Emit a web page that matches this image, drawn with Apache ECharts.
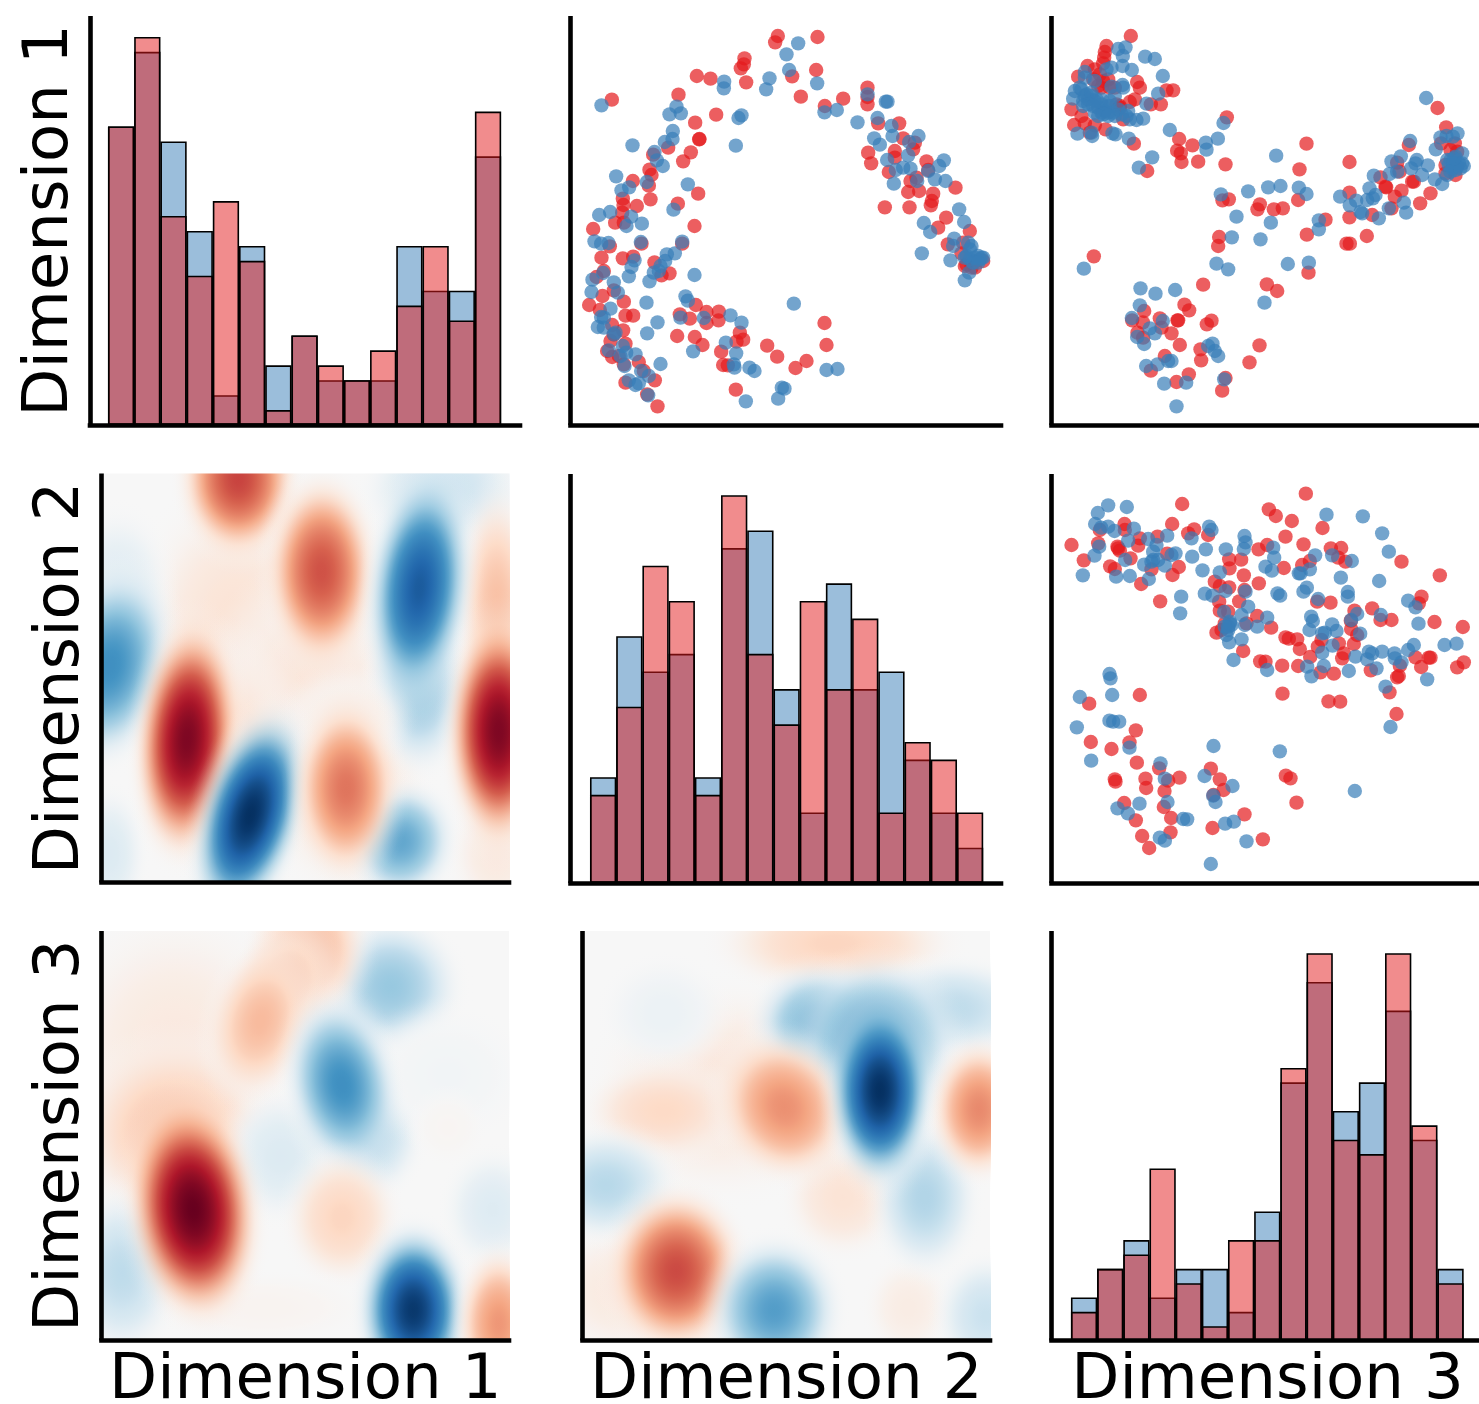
<!DOCTYPE html>
<html><head><meta charset="utf-8">
<style>html,body{margin:0;padding:0;background:#fff}#c{width:1479px;height:1404px}</style>
<script src="https://cdn.jsdelivr.net/npm/echarts@6/dist/echarts.min.js"></script>
</head><body><div id="c"></div>
<script>
const dimensionNames = ['Dimension 1','Dimension 2','Dimension 3'];
const binCenters = [0.5,1.5,2.5,3.5,4.5,5.5,6.5,7.5,8.5,9.5,10.5,11.5,12.5,13.5,14.5];
const hist1Blue = [20,25,19,13,2,12,4,6,3,3,3,12,9,9,18];
const hist1Red  = [20,26,14,10,15,11,1,6,4,3,5,8,12,7,21];
const hist2Blue = [6,14,12,13,6,19,20,11,4,17,11,12,7,4,2];
const hist2Red  = [5,10,18,16,5,22,13,9,16,11,15,4,8,7,4];
const hist3Blue = [3,5,7,3,5,5,2,9,18,25,16,18,23,14,5];
const hist3Red  = [2,5,6,12,4,1,7,7,19,27,14,13,27,15,4];

// Scatter readings, one array per part of each panel [x, y from top]
const a1Blue=[[93,268],[318,272],[297,295],[331,292],[461,197],[460,217],[597,187],[587,220],[513,298],[504,306],[186,388],[496,389],[307,345],[306,369],[283,378],[252,408],[259,433],[277,450],[137,481],[229,498],[176,514],[153,523],[352,505],[309,581],[86,597],[119,588],[182,602]];
const a1Red=[[124,251],[622,60],[614,79],[522,127],[520,145],[511,157],[527,199],[379,180],[420,188],[324,236],[437,296],[374,320],[387,369],[386,370],[293,395],[248,416],[361,409],[338,436],[237,461],[243,477],[187,495],[235,509],[240,550],[383,533],[322,563],[199,570],[157,548],[159,567],[155,590]];
const a2Red=[[68,24],[134,5],[160,5],[372,15],[118,76],[213,68],[335,68],[93,110],[157,112],[188,107],[252,124],[273,163],[297,157],[100,150],[78,168],[96,225],[130,208],[160,242],[56,252],[88,267],[165,284],[188,284],[328,280],[358,293],[376,252],[408,273],[445,272],[444,298],[408,306],[125,312],[158,328],[130,340],[320,345],[373,348],[396,372],[120,360],[165,368],[508,335],[518,356],[498,362],[452,392],[590,374],[620,407],[458,432],[472,433],[110,390],[125,408],[145,405],[205,423],[220,450],[165,485],[253,478],[230,520],[261,556],[496,506],[160,430]];
const a2Blue=[[168,15],[214,8],[72,61],[92,68],[114,66],[211,63],[335,62],[313,97],[289,100],[284,120],[192,118],[183,138],[175,166],[270,135],[265,150],[250,155],[237,181],[372,162],[98,156],[66,176],[130,184],[142,215],[63,213],[228,245],[345,226],[352,239],[120,263],[100,290],[92,288],[82,318],[100,320],[261,304],[230,337],[330,290],[400,291],[480,283],[513,305],[135,335],[130,340],[157,375],[115,388],[167,395],[195,400],[150,405],[270,429],[162,435],[368,391],[466,365],[497,397],[490,430],[492,440],[537,440],[552,450],[212,450],[235,465],[175,478],[205,487],[195,492],[233,523],[526,541],[623,533],[634,500],[642,503]];
const a3Blue=[[35,82],[0,115],[8,162],[92,202],[243,235],[298,257],[303,257],[114,289],[151,282],[213,319],[273,306],[315,330],[318,360],[263,367],[280,386],[396,360],[368,378],[365,418],[302,432],[472,433],[458,450],[425,465],[372,458],[350,455],[328,462],[322,503],[392,495],[445,490],[477,495],[518,580],[533,618],[412,621],[431,648],[503,668],[500,690],[545,680],[555,690],[406,712],[492,733],[540,720],[565,725],[580,730],[585,725],[548,770],[535,793],[22,863],[120,1062],[153,1059],[550,730],[575,720],[590,725],[560,740],[575,740],[550,700],[535,725]];
const a3Red=[[93,63],[89,162],[17,181],[43,242],[115,270],[170,248],[243,215],[243,243],[243,265],[275,322],[338,322],[350,367],[385,380],[380,400],[325,405],[325,425],[245,410],[254,442],[307,468],[420,436],[425,462],[390,485],[372,495],[365,528],[398,525],[507,515],[440,533],[436,555],[433,568],[295,574],[369,574],[479,605],[455,635],[550,645],[484,685],[530,680],[525,712],[535,750],[565,755],[590,735],[114,921],[120,987],[60,1035],[27,1056],[540,745],[555,755]];

const b1Red=[[238,60],[165,90],[160,108],[158,125],[155,142],[108,150],[130,160],[80,182],[150,215],[140,210],[257,198],[265,215],[345,223],[365,223],[250,250],[235,258],[205,270],[298,265],[328,265],[60,280],[90,300],[68,327],[100,322],[130,328],[115,350],[162,340],[215,310],[247,383],[526,304],[383,369],[423,388],[377,404],[388,412],[390,438],[440,437],[522,445],[287,465],[513,553],[532,550],[618,580],[625,565],[175,215],[190,215],[125,190],[155,195],[145,175],[170,190],[205,275],[195,265]];
const b1Blue=[[200,99],[222,94],[214,120],[213,150],[241,162],[281,122],[310,129],[334,180],[100,168],[100,185],[130,195],[165,160],[180,155],[70,225],[90,220],[65,248],[95,255],[120,240],[150,265],[175,270],[190,240],[180,212],[213,207],[215,215],[320,233],[285,263],[130,290],[160,285],[185,290],[230,285],[235,310],[255,312],[275,308],[78,353],[122,360],[120,350],[183,352],[192,355],[232,368],[355,342],[463,380],[465,401],[499,368],[516,321],[302,424],[262,455],[508,535],[590,526],[555,602],[110,250],[130,255],[150,290],[170,290],[105,235],[85,215],[100,240],[120,230],[135,250],[110,265],[140,275],[165,272],[150,250],[95,270],[125,270],[175,255],[200,280],[210,295],[155,295],[190,300],[225,300],[140,300],[170,300]];
const b2Blue=[[482,54],[434,183],[525,172],[543,168],[562,170],[576,160],[511,208],[406,229],[378,244],[454,240],[487,256],[437,265],[325,287],[372,282],[395,275],[450,250],[470,285],[508,298],[530,312],[312,325],[330,345],[322,355],[305,360],[224,350],[272,362],[253,376],[285,396],[290,400],[340,415],[415,368],[422,398],[370,385],[555,240],[570,230],[590,220],[595,258],[545,285],[560,265],[32,227],[8,322],[45,318],[100,323],[123,342],[160,421],[545,240],[575,260],[550,255],[565,250],[580,250],[590,250],[570,270],[555,275],[585,265],[565,235]];
const b2Red=[[516,84],[542,142],[123,191],[252,246],[430,195],[527,190],[568,190],[575,215],[540,255],[570,285],[395,248],[402,275],[345,292],[362,322],[440,305],[445,305],[408,332],[388,350],[495,340],[464,370],[378,385],[252,338],[102,268],[98,360],[25,388],[52,385],[180,419],[252,412],[320,405],[304,468],[360,320],[555,210],[540,280]];
const b3Blue=[[541,49],[627,55],[658,5],[802,25],[97,143],[495,128],[530,145],[709,129],[772,125],[267,202],[312,218],[371,207],[639,245],[265,253],[241,291],[334,300],[295,322],[310,337],[257,348],[278,369],[470,375],[483,368],[490,390],[500,405],[284,435],[318,430],[350,420],[360,420],[338,488],[404,485],[518,475],[375,556]];
const b3Red=[[127,106],[503,48],[500,75],[766,41],[895,68],[885,68],[771,155],[455,191],[646,190],[677,210],[399,251],[413,268],[278,270],[242,298],[325,292],[274,304],[378,298],[380,298],[480,299],[466,310],[330,320],[258,335],[360,337],[275,350],[385,372],[624,373],[447,385],[340,405],[449,418],[594,424],[298,449],[412,460],[375,483],[522,471],[512,509]];

const c1Blue=[[170,76],[226,81],[139,99],[131,132],[149,143],[170,140],[189,153],[247,146],[230,182],[143,200],[129,227],[94,286],[221,240],[194,290],[235,288],[278,254],[290,177],[315,195],[305,215],[305,240],[300,245],[320,240],[340,257],[292,297],[347,167],[372,220],[360,225],[422,230],[420,175],[473,140],[480,150],[463,208],[453,271],[505,277],[523,208],[579,168],[582,187],[577,207],[460,341],[483,347],[522,333],[582,335],[389,350],[386,400],[518,396],[590,380],[570,405],[580,435],[535,430],[530,450],[525,465],[533,487],[570,478],[617,440],[546,540],[174,582],[177,595],[535,425],[530,440],[540,435],[520,440]];
const c1Red=[[392,72],[219,132],[220,150],[60,195],[145,150],[140,190],[198,200],[205,212],[200,205],[97,241],[176,259],[190,267],[237,235],[265,175],[260,197],[318,170],[362,132],[428,148],[410,160],[470,165],[347,221],[382,261],[363,285],[269,312],[300,268],[326,364],[533,238],[534,265],[569,239],[577,286],[490,305],[505,318],[533,322],[579,330],[622,310],[621,208],[503,365],[505,392],[530,395],[563,364],[617,408],[495,458],[510,450],[520,430],[575,513],[626,544],[585,430]];
const c2Blue=[[183,104],[292,109],[350,160],[370,215],[23,203],[26,233],[0,260],[19,272],[149,226],[200,226],[259,243],[133,268],[100,280],[105,280],[226,293],[341,303],[124,323],[114,335],[247,336],[247,350],[36,340],[44,347],[158,357],[428,362],[450,382],[346,405],[459,431],[5,413],[137,410],[142,423],[132,450],[200,433],[213,453],[178,458],[170,460],[275,402],[257,420],[284,461],[201,497],[170,518],[310,515],[320,520],[350,515],[270,530],[305,538],[387,520],[388,535],[408,547],[445,495],[428,510],[537,495],[573,491],[485,598],[175,558],[125,560],[138,589],[250,573],[333,565],[360,620],[5,570],[375,741]];
const c2Red=[[121,41],[10,88],[31,108],[79,123],[171,144],[60,170],[114,193],[5,195],[196,205],[227,204],[218,233],[240,245],[133,243],[110,255],[55,264],[408,245],[523,286],[468,350],[460,370],[155,365],[195,368],[320,385],[267,392],[256,422],[345,420],[378,420],[507,426],[592,441],[257,447],[17,443],[60,472],[70,476],[95,478],[103,507],[275,465],[220,490],[157,500],[168,480],[265,492],[235,520],[230,535],[134,531],[50,557],[98,558],[165,577],[205,581],[316,571],[450,532],[467,561],[490,533],[495,533],[595,547],[575,562],[403,557],[400,588],[395,592],[372,637],[51,641],[189,664],[224,665],[393,702],[0,545]];
const c3Blue=[[85,51],[182,45],[174,122],[185,125],[203,125],[76,142],[234,203],[119,242],[327,250],[340,296],[348,366],[264,371],[198,385],[229,400],[459,288],[486,198],[685,214],[543,318],[485,347],[492,366],[395,417],[407,418],[521,431],[547,425],[325,473],[340,482],[585,484],[478,552],[910,333]];
const c3Red=[[113,71],[265,45],[253,151],[234,187],[118,186],[180,207],[256,248],[323,265],[190,298],[192,305],[282,296],[284,324],[350,302],[384,293],[339,333],[218,369],[337,381],[253,421],[359,414],[272,468],[357,457],[293,504],[478,266],[505,298],[516,330],[486,345],[579,403],[483,444],[634,478],[703,287],[717,295],[735,368]];

// Density-difference lobes: [x%, y% from top, x radius, y radius, tilt deg, signed level]
const diff21=[[33,36,30,40,0,.14],[51,50,28,30,0,.12],[30,70,24,36,0,.18],[60,78,24,30,0,.16],[84,4,24,18,0,-.22],[78,52,15,26,0,-.38],[4,28,16,24,0,-.12],[97,32,12,34,0,.3],[97,93,14,18,0,.1],[2,93,11,20,0,-.14],[2,47,19,30,12,-.62],[60,60,18,14,0,.08],[33.6,1.2,18,24,0,.68],[54,24,17,29,0,.64],[78,28,16,36,6,-.84],[73.6,90,16,18,12,-.52],[21,65,16,36,4,.94],[36.5,83.5,16,33,16,-1],[60,77,16,27,0,.54],[97.5,63,16,35,0,.94]];
const diff31=[[18,28,36,40,0,.1],[18,49,30,28,0,.3],[71,13.6,21,21,0,-.38],[65,49,17,20,0,-.32],[44,55,18,20,0,-.14],[85,35,24,20,0,-.03],[85,48,11,11,0,.02],[50.5,5.3,18,22,15,.36],[45,13,15,20,20,.32],[39,22,16,24,15,.32],[59,37.5,17,27,-10,-.62],[59,70,17,20,0,.22],[40,92,32,11,0,.03],[5,83.5,17,25,0,-.26],[96,68,15,18,0,-.13],[22.5,68,20,34,-6,1],[76.5,92.6,17,26,0,-.97],[97.5,96,13,23,0,.44]];
const diff32=[[34.5,39,38,32,0,.12],[62,3,36,15,0,.22],[20,20,19,17,0,-.06],[20,44,24,15,0,.2],[64,65,18,18,0,.14],[80,92,13,15,0,.08],[10,88,24,20,0,.1],[90.7,19,26,15,0,-.26],[84,65,16,23,0,-.3],[58,22.6,20,18,0,-.5],[72,28,24,26,0,-.66],[5.8,62,21,17,0,-.28],[99,94,15,18,0,-.22],[97.3,43.6,15,21,0,.48],[49.5,43,20,23,-30,.46],[23,83,21,25,0,.66],[47,92.6,20,22,0,-.56],[73,39,16,29,0,-1]];

const BLUE='#377eb8', RED='#e41a1c';
const FONT='"DejaVu Sans"';
const shift=(pts,dx,dy)=>pts.map(p=>[p[0]+dx,p[1]+dy]);
const panelABlue=[...a1Blue,...shift(a2Blue,0,615),...shift(a3Blue,648,0)];
const panelARed =[...a1Red,...shift(a2Red,0,615),...shift(a3Red,648,0)];
const panelBBlue=[...b1Blue,...shift(b2Blue,642,192),...shift(b3Blue,0,615)];
const panelBRed =[...b1Red,...shift(b2Red,642,192),...shift(b3Red,0,615)];
const panelCBlue=[...shift(c1Blue,0,18),...shift(c2Blue,642,18),...shift(c3Blue,0,618)];
const panelCRed =[...shift(c1Red,0,18),...shift(c2Red,642,18),...shift(c3Red,0,618)];

const RDBU=[[5,48,97],[33,102,172],[67,147,195],[146,197,222],[209,229,240],[247,247,247],[253,219,199],[244,165,130],[214,96,77],[178,24,43],[103,0,31]];
function rdbu(v){const t=(Math.max(-1,Math.min(1,v))+1)*5,i=Math.min(9,Math.floor(t)),f=t-i,a=RDBU[i],b=RDBU[i+1];
  return [0,1,2].map(k=>Math.round(a[k]+(b[k]-a[k])*f));}
function lobeFill(v){const stops=[];
  for(let i=0;i<=16;i++){const t=i/16,val=v*Math.pow(1-t*t,2),c=rdbu(val),al=Math.min(1,(1-t)/0.6);
    stops.push({offset:t,color:`rgba(${c[0]},${c[1]},${c[2]},${al*al*(3-2*al)})`});}
  return new echarts.graphic.RadialGradient(.5,.5,.5,stops);}

const grids=[],xAxes=[],yAxes=[],series=[];
function addPanel(l,t,w,h,xr,yr,xName,yName,yGap,bg,yInv){
  const i=grids.length;
  grids.push({left:l,top:t,width:w,height:h,show:!!bg,backgroundColor:bg||'transparent',borderWidth:0,outerBoundsMode:'none',containLabel:false});
  const lineOf=cap=>({show:true,onZero:false,lineStyle:{color:'#000',width:4.6,cap}});
  const title={nameLocation:'middle',nameTextStyle:{fontFamily:FONT,fontSize:62.6,color:'#000'}};
  xAxes.push({gridIndex:i,type:'value',min:xr[0],max:xr[1],position:'bottom',z:6,axisLine:lineOf('square'),axisTick:{show:false},axisLabel:{show:false},splitLine:{show:false},
    name:xName||'',nameGap:10,...title});
  yAxes.push({gridIndex:i,type:'value',min:yr[0],max:yr[1],inverse:!!yInv,position:'left',z:6,axisLine:lineOf('butt'),axisTick:{show:false},axisLabel:{show:false},splitLine:{show:false},
    name:yName||'',nameGap:yGap,...title});
  return i;
}
function addHist(i,blue,red){
  [[blue,'rgba(55,126,184,.5)'],[red,'rgba(228,26,28,.5)']].forEach(([vals,col])=>series.push({
    type:'bar',xAxisIndex:i,yAxisIndex:i,barWidth:26.3,barGap:'-100%',silent:true,
    data:vals.map((v,k)=>[binCenters[k],v]),itemStyle:{color:col,borderColor:'#000',borderWidth:1.6}}));
}
function addScatter(i,blue,red){
  [[red,RED],[blue,BLUE]].forEach(([pts,col])=>series.push({
    type:'scatter',xAxisIndex:i,yAxisIndex:i,symbolSize:14.4,silent:true,data:pts,
    itemStyle:{color:col,opacity:.7,borderWidth:0}}));
}
function addDiff(i,lobes){
  series.push({type:'custom',xAxisIndex:i,yAxisIndex:i,clip:true,silent:true,encode:{x:0,y:1},data:lobes,
    renderItem(params,api){
      const p=api.coord([api.value(0),api.value(1)]),s=api.size([api.value(2),api.value(3)]);
      return {type:'circle',x:p[0],y:p[1],scaleX:s[0],scaleY:s[1],rotation:-api.value(4)*Math.PI/180,
        shape:{cx:0,cy:0,r:1},style:{fill:lobeFill(api.value(5))}};
    }});
}
const SX1=[0,1291.5],SX2=[0,1296],SY=[0,1227];
// top row
let i=addPanel(90,16,430,409,[-.687,15.72],[0,27.4],'',dimensionNames[0],8); addHist(i,hist1Blue,hist1Red);
i=addPanel(570.5,16,430.5,409,SX1,SY,'','',0,null,true); addScatter(i,panelABlue,panelARed);
i=addPanel(1051.5,16,432,409,SX2,SY,'','',0,null,true); addScatter(i,panelBBlue,panelBRed);
// middle row
i=addPanel(101.5,473.5,407.5,409,[0,100],[0,100],'',dimensionNames[1],8,'#f7f7f7',true); addDiff(i,diff21);
i=addPanel(570.5,474,430.5,409,[-.745,15.68],[0,23.2]); addHist(i,hist2Blue,hist2Red);
i=addPanel(1051.5,474,432,409,SX2,SY,'','',0,null,true); addScatter(i,panelCBlue,panelCRed);
// bottom row
i=addPanel(101.5,931,407.5,409.5,[0,100],[0,100],dimensionNames[0],dimensionNames[2],8,'#f7f7f7',true); addDiff(i,diff31);
i=addPanel(582.5,931,407.5,409.5,[0,100],[0,100],dimensionNames[1],'',0,'#f7f7f7',true); addDiff(i,diff32);
i=addPanel(1051.5,931,432,409.5,[-.745,15.76],[0,28.55],dimensionNames[2]); addHist(i,hist3Blue,hist3Red);

const chart=echarts.init(document.getElementById('c'),null,{renderer:'canvas'});
chart.setOption({animation:false,backgroundColor:'#fff',grid:grids,xAxis:xAxes,yAxis:yAxes,series});
</script></body></html>
